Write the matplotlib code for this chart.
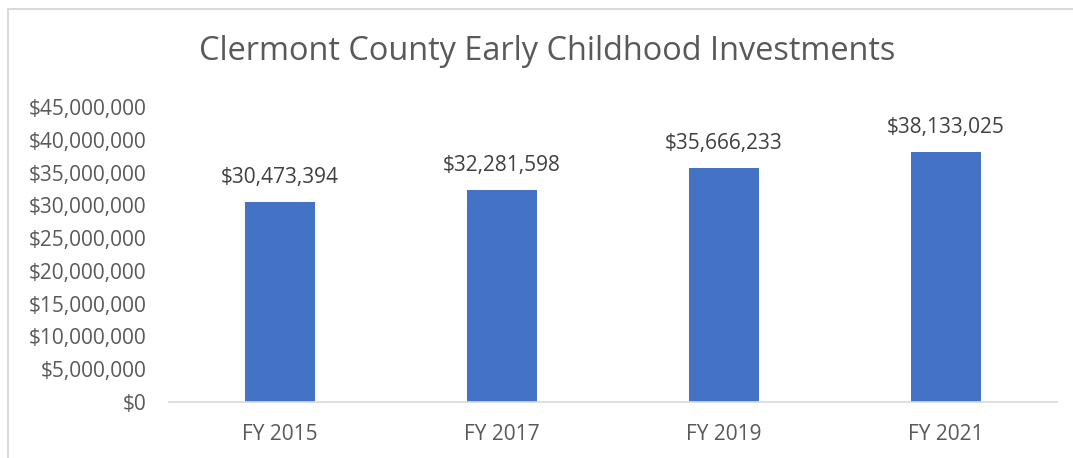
import matplotlib.pyplot as plt
from matplotlib.patches import Rectangle
from matplotlib.ticker import FuncFormatter

years = ["FY 2015", "FY 2017", "FY 2019", "FY 2021"]
investments = [30473394, 32281598, 35666233, 38133025]

plt.rcParams['font.family'] = ['Open Sans', 'DejaVu Sans']
grey = "#595959"

fig = plt.figure(figsize=(10.73, 4.58), dpi=100)
ax = fig.add_axes([169 / 1073, 1 - 402 / 458, (1057 - 169) / 1073, (402 - 107) / 458])

bars = ax.bar(years, investments, width=0.315, color="#4472C4")
ax.set_xlim(-0.5, 3.5)
ax.set_ylim(0, 45e6)
ax.set_yticks(range(0, 45000001, 5000000))
ax.yaxis.set_major_formatter(FuncFormatter(lambda v, p: f"${v:,.0f}"))

for b, v in zip(bars, investments):
    ax.annotate(f"${v:,}", (b.get_x() + b.get_width() / 2, v),
                xytext=(0, 18), textcoords="offset points",
                ha="center", va="center", fontsize=15, color="#404040")

for s in ["top", "right", "left"]:
    ax.spines[s].set_visible(False)
ax.spines["bottom"].set_color("#D9D9D9")
ax.spines["bottom"].set_linewidth(1.2)
ax.tick_params(axis="y", length=0, pad=16, labelsize=15, labelcolor=grey)
ax.tick_params(axis="x", length=0, pad=16, labelsize=15, labelcolor=grey)

fig.text(547 / 1073, 1 - 51 / 458, "Clermont County Early Childhood Investments",
         ha="center", va="center", fontsize=23.4, color=grey)

fig.patches.append(Rectangle((8 / 1073, -0.1), 1.2, 1 - 8.5 / 458 + 0.1,
                             transform=fig.transFigure, fill=False,
                             edgecolor="#D9D9D9", linewidth=1.5))

fig.savefig("out.png", dpi=100)
